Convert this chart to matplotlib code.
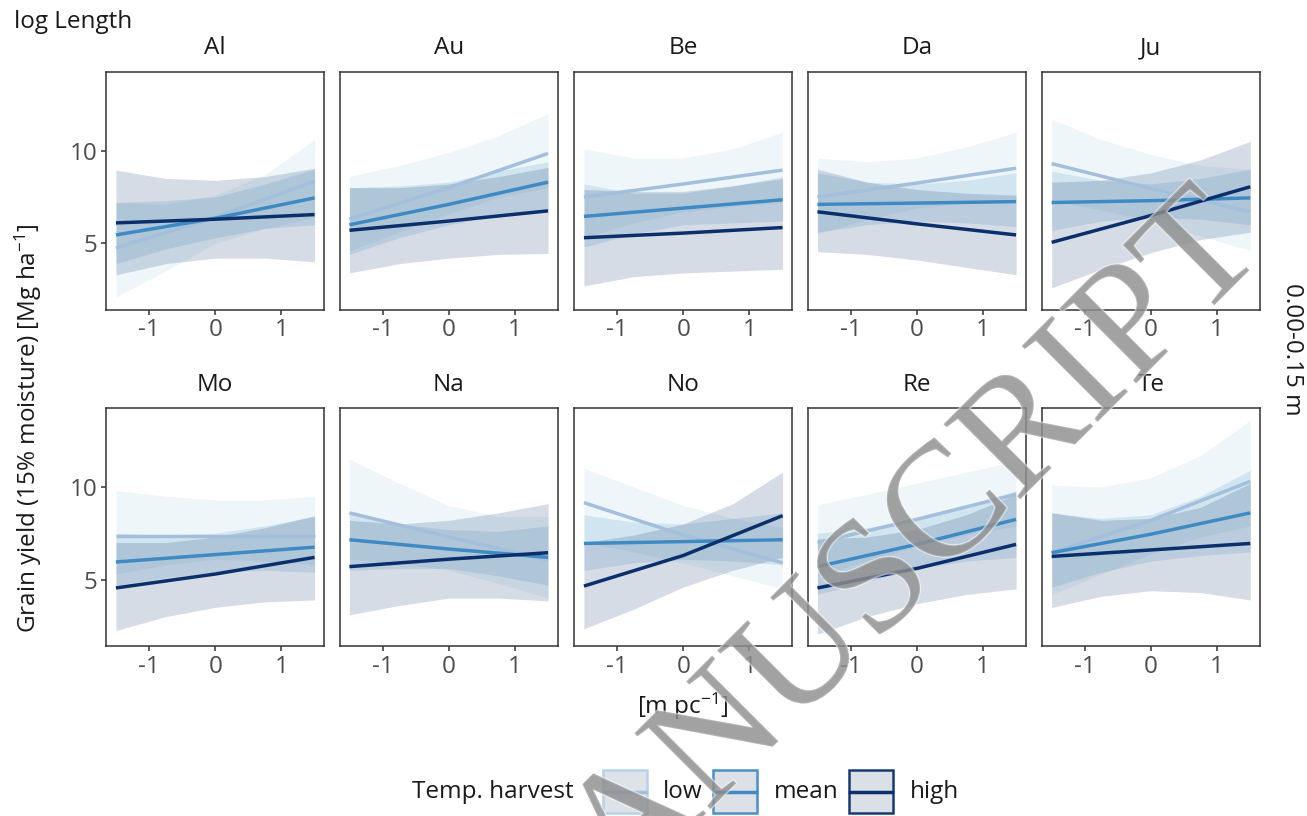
import matplotlib
matplotlib.use('Agg')
import matplotlib.pyplot as plt
from matplotlib.patches import Rectangle
from matplotlib.lines import Line2D
import matplotlib.patheffects as pe

plt.rcParams['font.family'] = ['Open Sans', 'DejaVu Sans']
plt.rcParams['mathtext.default'] = 'regular'

# ---------------- data ----------------
facets = ['Al', 'Au', 'Be', 'Da', 'Ju', 'Mo', 'Na', 'No', 'Re', 'Te']
series_names = ['low', 'mean', 'high']
x_line = [-1.5, 0.0, 1.5]
x_rib = [-1.5, -0.75, 0.0, 0.75, 1.5]
x_ticks = [-1, 0, 1]
y_ticks = [5, 10]

low_line = [[4.75, 6.4, 8.35], [6.3, 8.0, 9.85], [7.5, 8.2, 8.95], [7.5, 8.25, 9.05],
            [9.3, 7.95, 6.7], [7.35, 7.35, 7.35], [8.6, 7.3, 6.05], [9.15, 7.4, 5.9],
            [7.0, 8.25, 9.6], [6.45, 8.2, 10.3]]
mean_line = [[5.45, 6.35, 7.45], [6.0, 7.1, 8.3], [6.45, 6.9, 7.35], [7.1, 7.17, 7.25],
             [7.2, 7.3, 7.45], [5.95, 6.35, 6.75], [7.15, 6.65, 6.2], [6.95, 7.05, 7.15],
             [5.7, 6.9, 8.25], [6.45, 7.45, 8.6]]
high_line = [[6.1, 6.3, 6.55], [5.7, 6.2, 6.75], [5.3, 5.55, 5.85], [6.7, 6.05, 5.45],
             [5.05, 6.5, 8.05], [4.55, 5.3, 6.2], [5.7, 6.1, 6.45], [4.65, 6.3, 8.45],
             [4.55, 5.6, 6.9], [6.25, 6.6, 6.95]]

low_lo = [[2.1, 3.5, 5.0, 5.8, 6.4], [4.6, 5.6, 6.6, 7.5, 8.0], [5.3, 6.1, 6.7, 7.0, 7.2],
          [5.5, 6.3, 6.9, 7.2, 7.3], [7.3, 6.8, 6.2, 5.4, 4.6], [5.3, 5.8, 6.1, 6.0, 5.8],
          [6.1, 5.9, 5.5, 4.8, 4.0], [7.0, 6.5, 5.9, 5.2, 4.5], [5.2, 6.0, 6.8, 7.4, 7.9],
          [4.2, 5.3, 6.4, 7.3, 7.9]]
low_hi = [[7.2, 7.1, 7.6, 8.7, 10.6], [8.6, 9.2, 9.9, 10.8, 12.0], [10.1, 9.6, 9.6, 10.1, 11.0],
          [9.6, 9.4, 9.6, 10.2, 11.0], [11.7, 10.6, 9.8, 9.2, 9.0], [9.8, 9.5, 9.3, 9.3, 9.5],
          [11.5, 10.2, 9.0, 8.4, 8.4], [11.0, 10.0, 9.0, 8.3, 7.8], [9.05, 9.6, 10.2, 10.8, 11.4],
          [10.1, 10.0, 10.5, 11.7, 13.6]]
mean_lo = [[3.9, 4.7, 5.3, 5.8, 6.0], [4.4, 5.3, 6.0, 6.5, 6.8], [4.8, 5.5, 6.0, 6.1, 6.2],
           [5.6, 6.0, 6.2, 6.1, 5.9], [5.7, 6.2, 6.4, 6.3, 6.0], [4.7, 5.1, 5.4, 5.5, 5.4],
           [5.5, 5.6, 5.6, 5.2, 4.7], [5.5, 5.9, 6.1, 6.0, 5.8], [4.2, 4.9, 5.6, 6.0, 6.2],
           [4.6, 5.4, 6.0, 6.3, 6.5]]
mean_hi = [[7.2, 7.3, 7.5, 8.2, 9.0], [8.0, 8.1, 8.3, 8.9, 9.4], [8.2, 7.7, 7.7, 8.1, 8.6],
           [8.8, 8.3, 8.2, 8.4, 8.8], [8.9, 8.4, 8.2, 8.5, 9.0], [7.5, 7.4, 7.5, 7.9, 8.4],
           [8.6, 8.0, 7.7, 7.6, 7.9], [8.5, 8.1, 8.0, 8.3, 8.6], [7.5, 7.8, 8.3, 9.0, 9.8],
           [8.6, 8.3, 8.5, 9.5, 10.9]]
high_lo = [[3.3, 3.9, 4.2, 4.2, 4.0], [3.4, 3.9, 4.2, 4.4, 4.45], [2.7, 3.2, 3.4, 3.5, 3.6],
           [4.55, 4.4, 4.1, 3.7, 3.3], [2.6, 3.6, 4.5, 5.2, 5.6], [2.25, 3.0, 3.5, 3.8, 3.9],
           [3.1, 3.6, 4.0, 4.0, 3.85], [2.35, 3.4, 4.6, 5.5, 6.2], [2.05, 3.0, 3.7, 4.2, 4.5],
           [3.5, 4.1, 4.4, 4.3, 3.9]]
high_hi = [[8.95, 8.5, 8.4, 8.6, 9.05], [8.0, 8.0, 8.2, 8.6, 9.1], [7.9, 7.8, 7.8, 8.1, 8.5],
           [9.0, 8.3, 7.9, 7.7, 7.6], [8.3, 8.4, 8.8, 9.5, 10.5], [7.0, 7.0, 7.3, 7.8, 8.45],
           [8.2, 8.0, 8.2, 8.6, 9.1], [7.0, 7.4, 8.0, 9.1, 10.8], [7.2, 7.3, 7.7, 8.5, 9.6],
           [8.6, 8.2, 8.3, 8.9, 10.2]]

lines_by_series = [low_line, mean_line, high_line]
lo_by_series = [low_lo, mean_lo, high_lo]
hi_by_series = [low_hi, mean_hi, high_hi]

line_colors = ['#a3bfdb', '#3f8ac3', '#0b2f6b']
fill_colors = ['#9ecae1', '#4292c6', '#08306b']
key_edges = ['#b7d1ea', '#4a90c4', '#163a74']
key_fills = ['#dfe2e8', '#dde1e7', '#dbdfe6']

# ---------------- layout ----------------
W, H = 1307, 816
fig = plt.figure(figsize=(W / 100, H / 100), dpi=100)
lefts = [106, 339.5, 574, 807.5, 1041.7]
pw, ph = 218.5, 238.3
tops = [71.7, 408.0]
strip_y = [48, 385]
FS = 17.5
txt_col = '#1a1a1a'
tick_col = '#4d4d4d'

for i, name in enumerate(facets):
    r, c = divmod(i, 5)
    ax = fig.add_axes([lefts[c] / W, 1 - (tops[r] + ph) / H, pw / W, ph / H])
    for s in range(3):
        ax.fill_between(x_rib, lo_by_series[s][i], hi_by_series[s][i],
                        color=fill_colors[s], alpha=0.17, linewidth=0)
        ax.plot(x_line, lines_by_series[s][i], color=line_colors[s], lw=2.5,
                solid_capstyle='butt')
    ax.set_xlim(-1.65, 1.65)
    ax.set_ylim(1.4, 14.26)
    ax.set_xticks(x_ticks)
    ax.set_xticklabels([str(t) for t in x_ticks])
    ax.set_yticks(y_ticks)
    ax.set_yticklabels([str(t) for t in y_ticks])
    ax.tick_params(axis='both', colors='#333333', labelcolor=tick_col,
                   labelsize=FS, length=3.6, width=1.1, pad=2.5)
    if c != 0:
        ax.tick_params(axis='y', length=0, labelleft=False)
    for sp in ax.spines.values():
        sp.set_color('#333333')
        sp.set_linewidth(1.1)
    ax.text(0.5, 1 + (tops[r] - strip_y[r]) / ph, name,
            transform=ax.transAxes, ha='center', va='center', fontsize=FS, color=txt_col)

# outer texts
fig.text(14 / W, 1 - 22 / H, 'log Length', ha='left', va='center', fontsize=FS, color=txt_col)
fig.text(28 / W, 1 - 428 / H, 'Grain yield (15% moisture) [Mg ha$^{-1}$]', rotation=90,
         ha='center', va='center', fontsize=FS, color=txt_col)
fig.text(683 / W, 1 - 706 / H, '[m pc$^{-1}$]', ha='center', va='center', fontsize=FS, color=txt_col)
fig.text(1292 / W, 1 - 349 / H, '0.00-0.15 m', rotation=270, ha='center', va='center',
         fontsize=FS, color=txt_col)

# legend (drawn manually)
fig.text(412 / W, 1 - 792 / H, 'Temp. harvest', ha='left', va='center', fontsize=FS, color=txt_col)
key_x = [603, 713, 849]
lab_x = [663, 774, 910]
for s in range(3):
    x0, y0, kw, kh = key_x[s], 770, 44, 43
    fig.patches.append(Rectangle((x0 / W, 1 - (y0 + kh) / H), kw / W, kh / H,
                                 transform=fig.transFigure, facecolor=key_fills[s],
                                 edgecolor=key_edges[s], linewidth=1.8))
    fig.lines.append(Line2D([(x0 + 1) / W, (x0 + kw - 1) / W], [1 - (y0 + kh / 2) / H] * 2,
                            transform=fig.transFigure, color=line_colors[s], lw=2.5))
    fig.text(lab_x[s] / W, 1 - 792 / H, series_names[s], ha='left', va='center',
             fontsize=FS, color=txt_col)

# watermark
fig.text(866 / W, 1 - 598 / H, 'MANUSCRIPT', rotation=45, rotation_mode='anchor',
         ha='center', va='center', fontsize=118, family=['Liberation Serif', 'DejaVu Serif'],
         color='#8f8f8f', alpha=0.58,
         path_effects=[pe.withStroke(linewidth=1.5, foreground='white')])

fig.savefig('out.png', dpi=100)
